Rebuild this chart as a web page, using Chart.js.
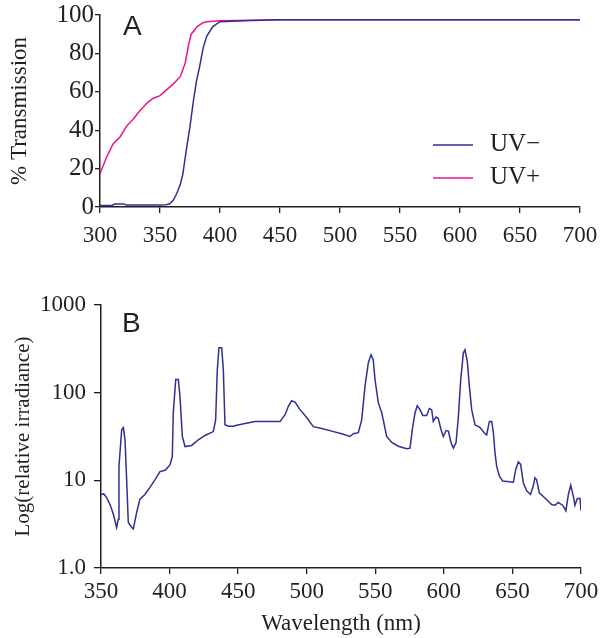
<!DOCTYPE html>
<html>
<head>
<meta charset="utf-8">
<script src="https://cdn.jsdelivr.net/npm/chart.js@4.4.1/dist/chart.umd.min.js"></script>
<style>
  body { margin: 0; background: #fff; }
  #wrap { position: relative; width: 600px; height: 638px; }
  canvas { position: absolute; left: 0; }
  #chartA { top: 0; }
  #chartB { top: 270px; }
</style>
</head>
<body>
<div id="wrap">
  <canvas id="chartA" width="600" height="262"></canvas>
  <canvas id="chartB" width="600" height="368"></canvas>
</div>
<script>
// ---- panel A : % transmission ----
const uvMinusNm = [300, 310, 312, 315, 320, 322, 330, 340, 350, 355, 358, 361, 364, 367, 369, 372, 375, 378, 380.5, 383, 386, 389, 394, 400, 420, 450, 500, 550, 600, 650, 700];
const uvMinusT  = [0.8, 0.8, 1.5, 1.5, 1.5, 1, 1, 1, 1, 1.2, 1.7, 3.5, 7, 12, 17, 30, 42, 56, 66, 73, 83, 89, 94, 96.5, 97, 97.5, 97.5, 97.5, 97.5, 97.5, 97.5];
const uvPlusNm  = [300, 301, 303, 305.5, 311, 316.7, 322, 328, 333, 339, 344, 350, 355.5, 361, 367, 371, 374, 376, 381, 386, 389, 400, 450, 500, 550, 600, 650, 700];
const uvPlusT   = [17, 19, 22, 26, 33, 36.5, 42, 46, 50, 54, 56.5, 58, 61, 64, 68, 75, 85, 90, 94, 96, 96.5, 97, 97.5, 97.5, 97.5, 97.5, 97.5, 97.5];
const seriesNames = ['UV\u2212', 'UV+'];
const transTicks = [0, 20, 40, 60, 80, 100];

// ---- panel B : relative irradiance ----
const irrNm = [350, 352, 354, 356.6, 359, 361.4, 362.6, 363.1, 365.1, 366.3, 367.5, 368.7, 369.9, 372.4, 373.6, 376, 378.4, 382, 385.7, 389.4, 393, 396.7, 400.3, 402, 402.7, 404.5, 406.4, 407.6, 409.3, 411.3, 416.1, 421, 425.8, 431.9, 433.6, 434.8, 436, 438, 439.2, 440.4, 442.8, 446.5, 449, 455, 462.3, 480.5, 484.2, 486.6, 489, 491.5, 495.1, 500, 504.8, 511, 518.2, 525.5, 531.6, 534, 537.6, 540.1, 542.5, 544.9, 546.9, 548.5, 549.8, 552.2, 554.7, 555.8, 558.3, 562, 566.8, 572.9, 575.3, 577.3, 579, 580.6, 582.6, 584.6, 587.5, 589.4, 591.1, 592.3, 594.3, 595.9, 597.9, 599.6, 601.6, 603.3, 605.2, 606.9, 608.9, 610.6, 612.3, 614.2, 615.4, 617.1, 618.6, 620.3, 622.7, 626.4, 630, 631.2, 633.2, 634.9, 636.1, 637.3, 638.5, 640.4, 642.9, 650.7, 652.4, 654.3, 656, 657.9, 660.4, 663.2, 665.2, 666.4, 667.6, 669.6, 673.7, 678.6, 681, 683.4, 686.6, 689, 690.8, 692.5, 694.4, 695.6, 697.3, 699.3, 700];
const irrVal = [6.9, 7.0, 6.4, 5.3, 4.1, 2.9, 3.6, 14.4, 38, 40, 29, 10.2, 3.3, 2.9, 2.8, 4.3, 6.1, 6.9, 8.3, 10.2, 12.6, 13, 15, 18.7, 59, 141, 141, 90, 31.6, 24.3, 25, 29, 32.5, 36, 49, 182, 326, 326, 182, 43, 41.5, 41.5, 42.5, 44.5, 46.8, 46.8, 56, 70, 81, 78, 64, 52, 41, 39, 36.4, 34, 31.6, 34, 35, 49, 118, 218, 270, 237, 141, 77, 59, 49, 31.6, 27, 24.5, 22.9, 23.3, 41, 59, 71, 64, 55, 55, 66, 64, 47, 52.8, 51, 38, 31.6, 37, 36.4, 27, 23.3, 27, 53.5, 141, 283, 308, 227, 118, 64, 43, 40, 34, 33, 47, 47, 35, 20.6, 14.5, 11.2, 9.8, 9.5, 13.3, 16.2, 15.2, 9.4, 7.6, 6.9, 8.6, 10.7, 10.2, 7.2, 6.3, 5.3, 5.2, 5.6, 5.2, 4.5, 6.9, 8.8, 6.6, 5.2, 6.2, 6.2, 4.5];
const irrTicks = [1, 10, 100, 1000];
const irrTickLabels = ['1.0', '10', '100', '1000'];

const ink = '#231f20';
const blue = '#2e3192';
const pink = '#ec148c';

Chart.defaults.font.family = '"Liberation Serif", "Times New Roman", serif';
Chart.defaults.color = ink;

function pts(xs, ys) {
  return xs.map((x, i) => ({ x: x, y: ys[i] }));
}

function axisGrid(len) {
  return { display: true, drawOnChartArea: false, drawTicks: true, tickLength: len, color: ink, lineWidth: 1.3 };
}

function panelLetter(letter, dx, dy) {
  return {
    id: 'panel' + letter,
    afterDraw(chart) {
      const { ctx, chartArea } = chart;
      ctx.save();
      ctx.font = '28px "Liberation Sans", Arial, sans-serif';
      ctx.fillStyle = ink;
      ctx.textBaseline = 'alphabetic';
      ctx.fillText(letter, chartArea.left + dx, chartArea.top + dy);
      ctx.restore();
    }
  };
}

// legend drawn inside the plot area, like the figure
const insideLegend = {
  id: 'insideLegend',
  afterDraw(chart) {
    const { ctx, chartArea } = chart;
    ctx.save();
    ctx.font = '25px "Liberation Serif", serif';
    ctx.textBaseline = 'middle';
    chart.data.datasets.forEach((ds, i) => {
      const y = chartArea.top + 130 + i * 33;
      ctx.strokeStyle = ds.borderColor;
      ctx.lineWidth = 1.6;
      ctx.beginPath();
      ctx.moveTo(chartArea.right - 147, y);
      ctx.lineTo(chartArea.right - 107, y);
      ctx.stroke();
      ctx.fillStyle = ink;
      ctx.fillText(ds.label, chartArea.right - 90, y - 1);
    });
    ctx.restore();
  }
};

new Chart(document.getElementById('chartA').getContext('2d'), {
  type: 'line',
  data: {
    datasets: [
      { label: seriesNames[0], data: pts(uvMinusNm, uvMinusT), borderColor: blue, borderWidth: 1.5, pointRadius: 0, tension: 0 },
      { label: seriesNames[1], data: pts(uvPlusNm, uvPlusT), borderColor: pink, borderWidth: 1.5, pointRadius: 0, tension: 0 }
    ]
  },
  options: {
    responsive: false,
    animation: false,
    devicePixelRatio: 1,
    layout: { padding: { top: 15, right: 20, left: 0, bottom: 0 } },
    plugins: { legend: { display: false }, tooltip: { enabled: false } },
    scales: {
      x: {
        type: 'linear', min: 300, max: 700,
        ticks: { stepSize: 50, font: { size: 23 }, padding: 9, maxRotation: 0 },
        grid: axisGrid(6),
        border: { display: true, color: ink, width: 1.5 },
        afterFit(s) { s.height = 55; s.paddingLeft = 0; s.paddingRight = 0; }
      },
      y: {
        min: 0, max: 100,
        afterBuildTicks(s) { s.ticks = transTicks.map(v => ({ value: v })); },
        ticks: { font: { size: 25 }, padding: 1 },
        grid: axisGrid(5),
        border: { display: true, color: ink, width: 1.5 },
        title: { display: true, text: '% Transmission', font: { size: 23 }, padding: { top: 6, bottom: 0 } },
        afterFit(s) { s.width = 100; s.paddingTop = 0; s.paddingBottom = 0; }
      }
    }
  },
  plugins: [panelLetter('A', 23, 20), insideLegend]
});

new Chart(document.getElementById('chartB').getContext('2d'), {
  type: 'line',
  data: {
    datasets: [
      { label: 'Irradiance', data: pts(irrNm, irrVal), borderColor: blue, borderWidth: 1.5, pointRadius: 0, tension: 0 }
    ]
  },
  options: {
    responsive: false,
    animation: false,
    devicePixelRatio: 1,
    layout: { padding: { top: 35, right: 19, left: 0, bottom: 0 } },
    plugins: { legend: { display: false }, tooltip: { enabled: false } },
    scales: {
      x: {
        type: 'linear', min: 350, max: 700,
        ticks: { stepSize: 50, font: { size: 23 }, padding: 4, maxRotation: 0 },
        grid: axisGrid(6),
        border: { display: true, color: ink, width: 1.5 },
        title: { display: true, text: 'Wavelength (nm)', font: { size: 23 }, padding: { top: 0, bottom: 0 } },
        afterFit(s) { s.height = 70; s.paddingLeft = 0; s.paddingRight = 0; }
      },
      y: {
        type: 'logarithmic', min: 1, max: 1000,
        afterBuildTicks(s) { s.ticks = irrTicks.map(v => ({ value: v })); },
        ticks: {
          font: { size: 23 }, padding: 8,
          callback(v) { const i = irrTicks.indexOf(v); return i >= 0 ? irrTickLabels[i] : ''; }
        },
        grid: axisGrid(7),
        border: { display: true, color: ink, width: 1.5 },
        title: { display: true, text: 'Log(relative irradiance)', font: { size: 21 }, padding: { top: 11, bottom: 0 } },
        afterFit(s) { s.width = 101; s.paddingTop = 0; s.paddingBottom = 0; }
      }
    }
  },
  plugins: [panelLetter('B', 21, 27)]
});
</script>
</body>
</html>
